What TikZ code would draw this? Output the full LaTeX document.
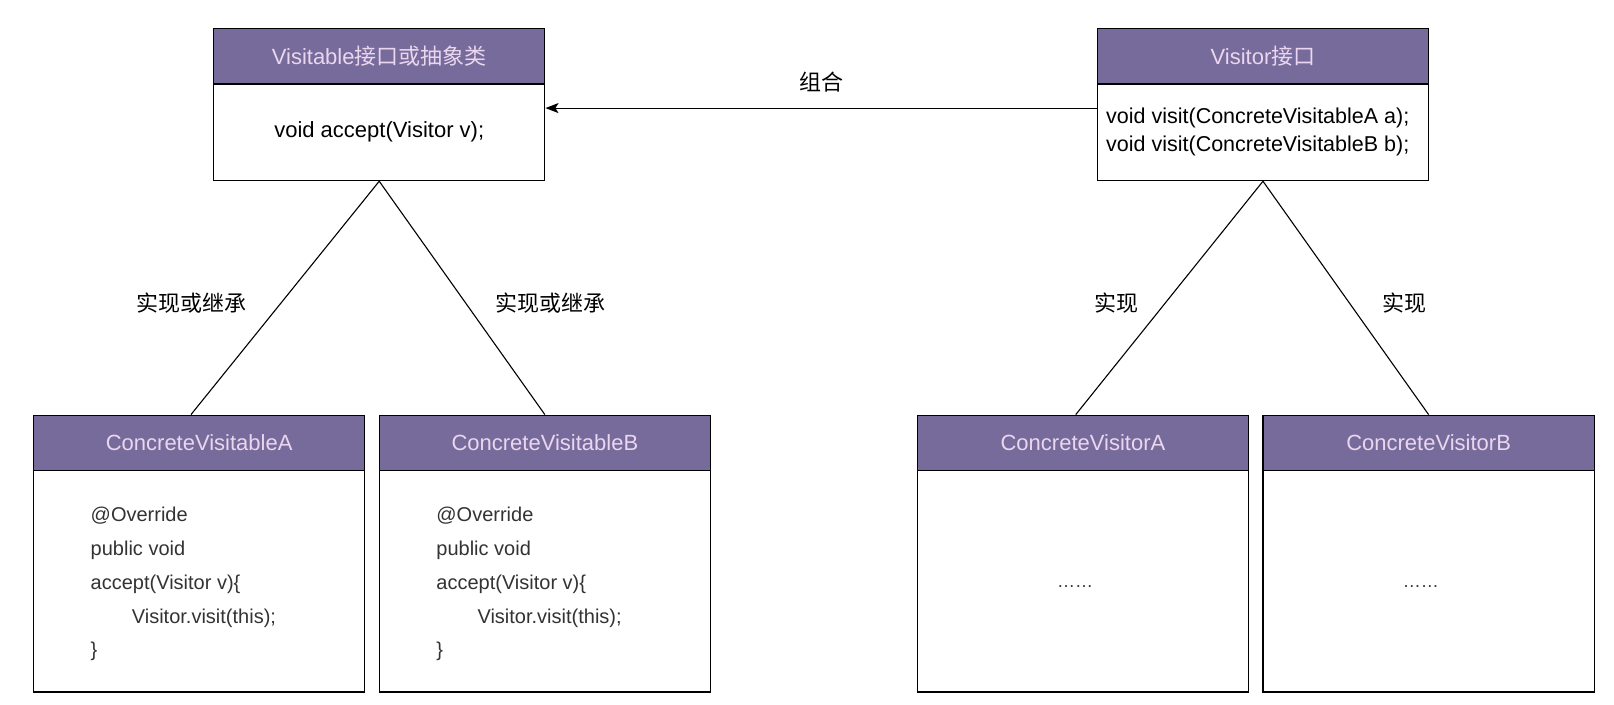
\documentclass[tikz,border=0pt]{standalone}
\usepackage{fontspec}
\setmainfont{Liberation Sans}
\newfontfamily\cjk{Noto Sans CJK SC}
\usetikzlibrary{arrows.meta,calc}
\definecolor{hdrfill}{HTML}{766B9B}
\definecolor{hdrtext}{HTML}{EAD6EE}
\definecolor{codegray}{HTML}{333333}
\begin{document}
\begin{tikzpicture}[x=1.0288pt,y=-1.0288pt,
  every node/.style={font=\fontsize{22}{26}\selectfont},
  hdr/.style={draw=black, line width=1.2pt, fill=hdrfill, text=hdrtext, minimum width=331.3pt, minimum height=55.6pt, anchor=north west, inner sep=0pt},
  bodybox/.style={draw=black, line width=1.2pt, fill=white, minimum width=331.3pt, anchor=north west, inner sep=0pt},
  code/.style={anchor=base west, inner sep=0pt, text=codegray, font=\fontsize{20}{24}\selectfont},
  dots/.style={text=codegray, inner sep=0pt, anchor=base, font=\fontsize{18}{22}\selectfont},
  lbl/.style={inner sep=0pt, text=black},
  conn/.style={draw=black, line width=1.1pt}
]
\useasboundingbox (0,0) rectangle (1568.8,684.3);
% top left
\node[bodybox, minimum height=96.7pt] (vb) at (207,81) {};
\node[hdr] (vh) at (207,27) {Visitable{\cjk 接口或抽象类}};
\node (vt) at (vb.center) {void accept(Visitor v);};
% top right
\node[bodybox, minimum height=96.7pt] (sb) at (1066,81) {};
\node[hdr] (sh) at (1066,27) {Visitor{\cjk 接口}};
\node[anchor=west, align=left, inner sep=0pt, font=\fontsize{21.5}{28}\selectfont] (st) at (1075,128) {void visit(ConcreteVisitableA a);\\void visit(ConcreteVisitableB b);};
% bottom boxes
\node[bodybox, minimum height=221.2pt] (ab) at (32,457) {};
\node[hdr] (ah) at (32,403) {ConcreteVisitableA};
\node[bodybox, minimum height=221.2pt] (bb) at (368,457) {};
\node[hdr] (bh) at (368,403) {ConcreteVisitableB};
\node[bodybox, minimum height=221.2pt] (cb) at (891,457) {};
\node[hdr] (ch) at (891,403) {ConcreteVisitorA};
\node[bodybox, minimum height=221.2pt] (db) at (1227,457) {};
\node[hdr] (dh) at (1227,403) {ConcreteVisitorB};
% code A
\node[code] (a1) at (88,507) {@Override};
\node[code] (a2) at (88,540) {public void};
\node[code] (a3) at (88,573) {accept(Visitor v)\{};
\node[code] (a4) at (128,606) {Visitor.visit(this);};
\node[code] (a5) at (88,638) {\}};
% code B
\node[code] (b1) at (424,507) {@Override};
\node[code] (b2) at (424,540) {public void};
\node[code] (b3) at (424,573) {accept(Visitor v)\{};
\node[code] (b4) at (464,606) {Visitor.visit(this);};
\node[code] (b5) at (424,638) {\}};
% dots
\node[dots] (cd) at (1045,571) {……};
\node[dots] (dd) at (1381,571) {……};
% connectors
\draw[conn] (vb.south) -- ([xshift=-8.2pt]ah.north);
\draw[conn] (vb.south) -- (bh.north);
\draw[conn] (sb.south) -- ([xshift=-7.2pt]ch.north);
\draw[conn] (sb.south) -- (dh.north);
\draw[conn, -{Stealth[length=13pt,width=10pt,inset=3pt]}] ([yshift=24.2pt]sb.west) -- ([yshift=24.2pt]vb.east);
% labels
\node[lbl] (l1) at (186,295) {\cjk 实现或继承};
\node[lbl] (l2) at (535,295) {\cjk 实现或继承};
\node[lbl] (l3) at (1085,295) {\cjk 实现};
\node[lbl] (l4) at (1365,295) {\cjk 实现};
\node[lbl] (l5) at (798,80) {\cjk 组合};
\end{tikzpicture}
\end{document}
